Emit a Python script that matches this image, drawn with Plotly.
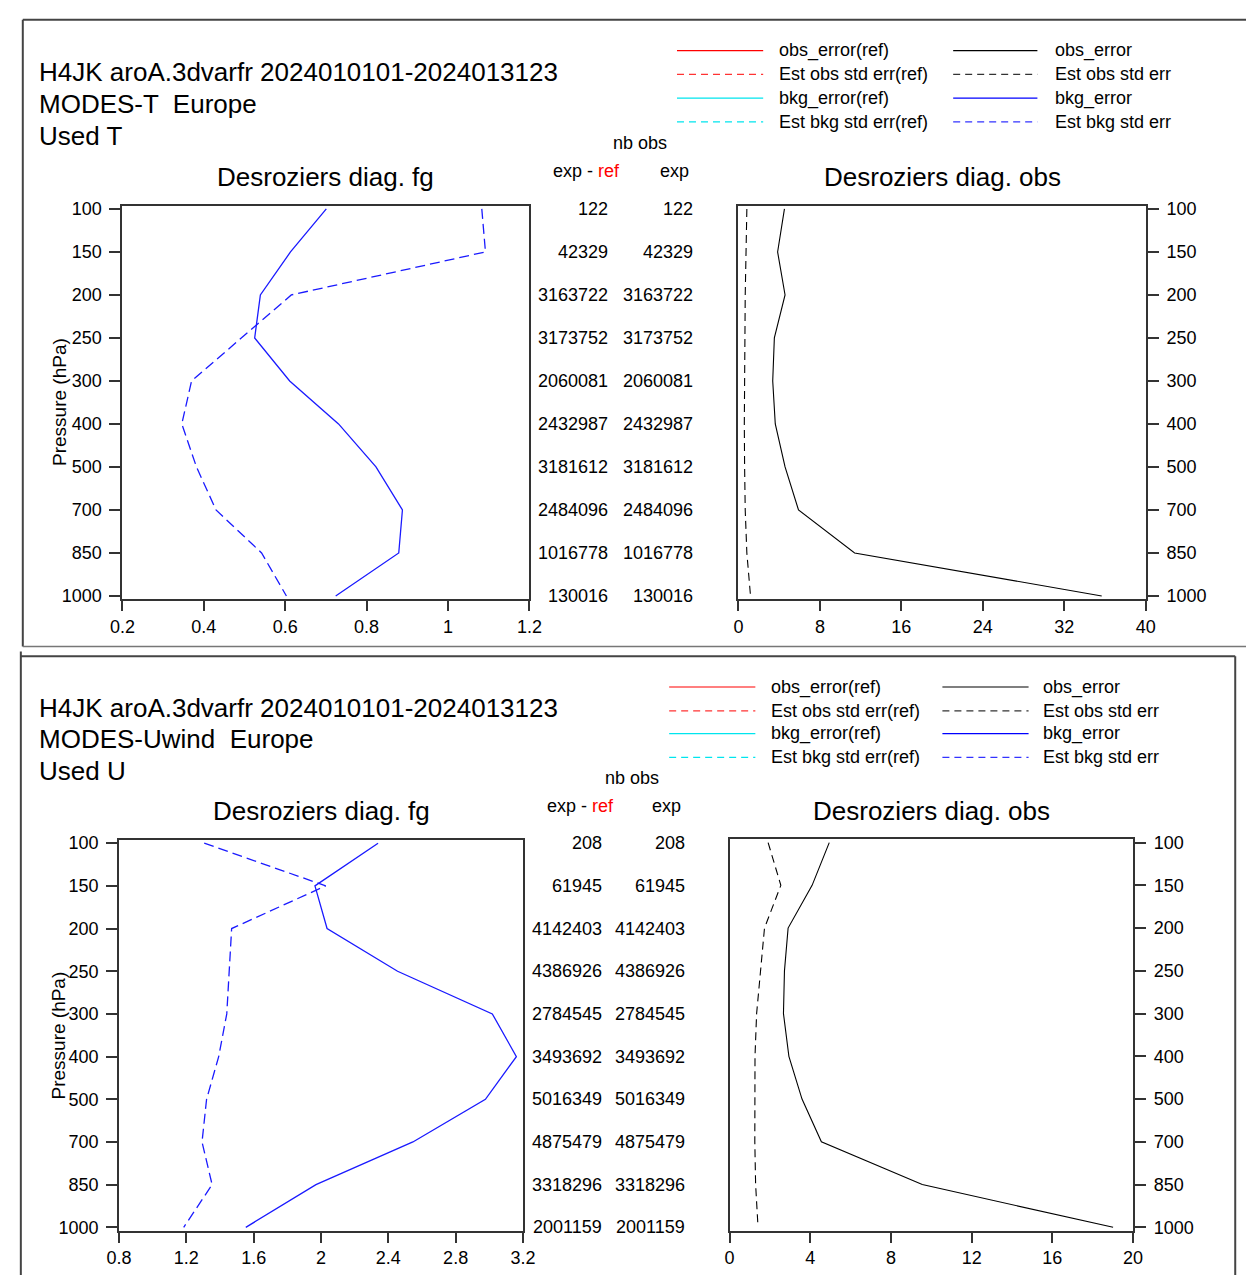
import plotly.graph_objects as go

# ---------------- data ----------------
levels = ["100", "150", "200", "250", "300", "400", "500", "700", "850", "1000"]

# Panel 1 : MODES-T
t_bkg_error = [0.701, 0.613, 0.539, 0.525, 0.611, 0.731, 0.823, 0.888, 0.879, 0.724]
t_est_bkg_std = [1.083, 1.092, 0.615, 0.493, 0.370, 0.346, 0.382, 0.430, 0.542, 0.603]
t_obs_error = [4.52, 3.85, 4.58, 3.53, 3.37, 3.62, 4.58, 5.90, 11.41, 35.67]
t_est_obs_std = [0.83, 0.74, 0.67, 0.64, 0.58, 0.58, 0.61, 0.67, 0.83, 1.19]
t_nb_exp_ref = [122, 42329, 3163722, 3173752, 2060081, 2432987, 3181612, 2484096, 1016778, 130016]
t_nb_exp = [122, 42329, 3163722, 3173752, 2060081, 2432987, 3181612, 2484096, 1016778, 130016]

# Panel 2 : MODES-Uwind
u_bkg_error = [2.339, 1.964, 2.036, 2.455, 3.018, 3.161, 2.977, 2.546, 1.970, 1.553]
u_est_bkg_std = [1.306, 2.028, 1.469, 1.456, 1.440, 1.392, 1.320, 1.293, 1.353, 1.184]
u_obs_error = [4.94, 4.09, 2.90, 2.72, 2.67, 2.94, 3.59, 4.55, 9.55, 19.01]
u_est_obs_std = [1.91, 2.54, 1.73, 1.54, 1.34, 1.26, 1.25, 1.25, 1.29, 1.41]
u_nb_exp_ref = [208, 61945, 4142403, 4386926, 2784545, 3493692, 5016349, 4875479, 3318296, 2001159]
u_nb_exp = [208, 61945, 4142403, 4386926, 2784545, 3493692, 5016349, 4875479, 3318296, 2001159]

title_lines_1 = ["H4JK aroA.3dvarfr 2024010101-2024013123", "MODES-T  Europe", "Used T"]
title_lines_2 = ["H4JK aroA.3dvarfr 2024010101-2024013123", "MODES-Uwind  Europe", "Used U"]

legend_left = ["obs_error(ref)", "Est obs std err(ref)", "bkg_error(ref)", "Est bkg std err(ref)"]
legend_right = ["obs_error", "Est obs std err", "bkg_error", "Est bkg std err"]

# ---------------- layout helpers ----------------
W, H = 1259, 1282
OFF = 0


def px(x):
    return (x - OFF) / W


def py(y):
    return 1 - (y - OFF) / H


FONT = "Liberation Sans, Arial, Helvetica, sans-serif"
AX = "#333333"
BLUE = "#1a1aff"

fig = go.Figure()

panels = [
    dict(xa="x", ya="y", bkg=t_bkg_error, bstd=t_est_bkg_std),
    dict(xa="x3", ya="y3", bkg=u_bkg_error, bstd=u_est_bkg_std),
]
for p in panels:
    fig.add_trace(go.Scatter(x=p["bkg"], y=levels, mode="lines", xaxis=p["xa"], yaxis=p["ya"],
                             line=dict(color=BLUE, width=1.3), showlegend=False))
    fig.add_trace(go.Scatter(x=p["bstd"], y=levels, mode="lines", xaxis=p["xa"], yaxis=p["ya"],
                             line=dict(color=BLUE, width=1.3, dash="10px,5px"), showlegend=False))

panels_o = [
    dict(xa="x2", ya="y2", obs=t_obs_error, ostd=t_est_obs_std),
    dict(xa="x4", ya="y4", obs=u_obs_error, ostd=u_est_obs_std),
]
for p in panels_o:
    fig.add_trace(go.Scatter(x=p["obs"], y=levels, mode="lines", xaxis=p["xa"], yaxis=p["ya"],
                             line=dict(color="#000000", width=1.1), showlegend=False))
    fig.add_trace(go.Scatter(x=p["ostd"], y=levels, mode="lines", xaxis=p["xa"], yaxis=p["ya"],
                             line=dict(color="#000000", width=1.1, dash="8px,5px"), showlegend=False))


def xaxis_cfg(x0, x1, rng, dtick, anchor):
    return dict(domain=[px(x0), px(x1)], range=rng, dtick=dtick, tick0=rng[0], anchor=anchor,
                showgrid=False, zeroline=False, showline=True, linecolor=AX, linewidth=2,
                mirror=True, ticks="outside", ticklen=10, tickwidth=2, tickcolor=AX,
                tickfont=dict(family=FONT, size=18, color="#000"))


def yaxis_cfg(y0, y1, rng, side, anchor):
    return dict(domain=[py(y1), py(y0)], type="category", categoryorder="array",
                categoryarray=levels, range=rng,
                anchor=anchor, side=side, showgrid=False, zeroline=False, showline=True,
                linecolor=AX, linewidth=2, mirror=True, ticks="outside", ticklen=11,
                tickwidth=2, tickcolor=AX, ticklabelstandoff=4,
                tickfont=dict(family=FONT, size=18, color="#000"))


fig.update_layout(
    xaxis=xaxis_cfg(111.7, 527.3, [0.2, 1.2], 0.2, "y"),
    yaxis=yaxis_cfg(201.7, 599.3, [9.076, -0.076], "left", "x"),
    xaxis2=xaxis_cfg(740.7, 1156.7, [0, 40], 8, "y2"),
    yaxis2=yaxis_cfg(201.7, 599.3, [9.076, -0.076], "right", "x2"),
    xaxis3=xaxis_cfg(108.3, 520.7, [0.8, 3.2], 0.4, "y3"),
    yaxis3=yaxis_cfg(842.3, 1237.3, [9.08, -0.08], "left", "x3"),
    xaxis4=xaxis_cfg(731.7, 1143.7, [0, 20], 4, "y4"),
    yaxis4=yaxis_cfg(841.7, 1237.3, [9.08, -0.08], "right", "x4"),
)

annotations = []
shapes = []


def text(x, y, s, size=18, xanchor="left", color="#000", angle=0):
    annotations.append(dict(x=px(x), y=py(y), xref="paper", yref="paper", text=s, showarrow=False,
                            xanchor=xanchor, yanchor="middle", textangle=angle,
                            font=dict(family=FONT, size=size, color=color)))


def hline(x0, x1, y, color, width=2, dash=None):
    shapes.append(dict(type="line", xref="paper", yref="paper", x0=px(x0), x1=px(x1), y0=py(y), y1=py(y),
                       line=dict(color=color, width=width, dash=dash)))


def vline(x, y0, y1, color, width=2):
    shapes.append(dict(type="line", xref="paper", yref="paper", x0=px(x), x1=px(x), y0=py(y0), y1=py(y1),
                       line=dict(color=color, width=width)))


# borders
hline(10, 1259, 14, "#444444", 2)
vline(10, 14, 647, "#444444", 2)
hline(10, 1259, 647, "#777777", 1.5)
hline(8, 1248, 657, "#444444", 2)
vline(8, 652, 1282, "#444444", 2)
vline(1248, 657, 1282, "#444444", 2)

legend_styles_left = [("#ff0000", None), ("#ff3333", "7px,5px"), ("#00e5ee", None), ("#00e5ee", "7px,5px")]
legend_styles_right = [("#000000", None), ("#333333", "7px,5px"), ("#0000ff", None), ("#3333ff", "7px,5px")]

panel_cfg = [
    dict(title=title_lines_1, ty=[67, 99, 131], tx=25,
         leg_y=[45, 69, 93, 117], lx=(678, 766, 780), rx=(960, 1046, 1062),
         nb_y=138, nb_x=640, hdr_y=167, hdr1=586, hdr2=675, col1=610, col2=696,
         ya="y", refs=t_nb_exp_ref, exps=t_nb_exp,
         fg=(319.5, 173), obs=(948.7, 173), pres=(48, 400)),
    dict(title=title_lines_2, ty=[709, 741, 773], tx=24,
         leg_y=[688, 712, 735, 759], lx=(670, 758, 772), rx=(949, 1037, 1050),
         nb_y=780, nb_x=632, hdr_y=808, hdr1=579, hdr2=667, col1=603, col2=688,
         ya="y3", refs=u_nb_exp_ref, exps=u_nb_exp,
         fg=(314.5, 813), obs=(937.7, 813), pres=(46, 1040)),
]

for c in panel_cfg:
    for s, y in zip(c["title"], c["ty"]):
        text(c["tx"], y, s, size=26)
    for i, y in enumerate(c["leg_y"]):
        col, d = legend_styles_left[i]
        hline(c["lx"][0], c["lx"][1], y, col, 1.2, d)
        text(c["lx"][2], y, legend_left[i], size=18)
        col, d = legend_styles_right[i]
        hline(c["rx"][0], c["rx"][1], y, col, 1.2, d)
        text(c["rx"][2], y, legend_right[i], size=18)
    text(c["nb_x"], c["nb_y"], "nb obs", size=18, xanchor="center")
    text(c["hdr1"], c["hdr_y"], "exp - <span style='color:#ff0000'>ref</span>", size=18, xanchor="center")
    text(c["hdr2"], c["hdr_y"], "exp", size=18, xanchor="center")
    for i, (a, b) in enumerate(zip(c["refs"], c["exps"])):
        annotations.append(dict(x=px(c["col1"]), y=i, xref="paper", yref=c["ya"], text=str(a),
                                showarrow=False, xanchor="right", yanchor="middle",
                                font=dict(family=FONT, size=18, color="#000")))
        annotations.append(dict(x=px(c["col2"]), y=i, xref="paper", yref=c["ya"], text=str(b),
                                showarrow=False, xanchor="right", yanchor="middle",
                                font=dict(family=FONT, size=18, color="#000")))
    text(c["fg"][0], c["fg"][1], "Desroziers diag. fg", size=26, xanchor="center")
    text(c["obs"][0], c["obs"][1], "Desroziers diag. obs", size=26, xanchor="center")
    text(c["pres"][0], c["pres"][1], "Pressure (hPa)", size=19, xanchor="center", angle=-90)

fig.update_layout(
    width=W, height=H, margin=dict(l=0, r=0, t=0, b=0),
    paper_bgcolor="white", plot_bgcolor="white", showlegend=False,
    annotations=annotations, shapes=shapes,
    font=dict(family=FONT, size=18, color="#000"),
)

# remove the default page margin so the figure fills the window exactly
fig.write_html("out.html", config={"displayModeBar": False},
               post_script="document.body.style.margin='0';document.body.style.overflow='hidden';")
